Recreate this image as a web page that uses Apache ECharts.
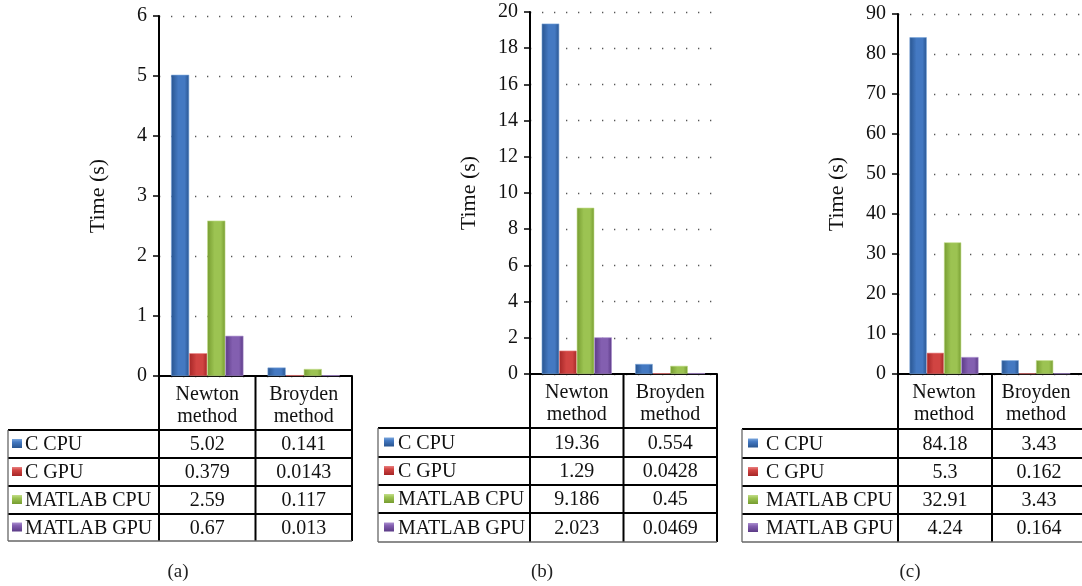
<!DOCTYPE html>
<html>
<head>
<meta charset="utf-8">
<script src="https://cdn.jsdelivr.net/npm/echarts@6/dist/echarts.min.js"></script>
<style>
html,body{margin:0;padding:0;background:#fff;}
#chart{width:1082px;height:586px;}
</style>
</head>
<body>
<div id="chart"></div>
<script>
// ---- Data ----
const categories = ['Newton\nmethod', 'Broyden\nmethod'];
const seriesNames = ['C CPU', 'C GPU', 'MATLAB CPU', 'MATLAB GPU'];
const panelLabels = ['(a)', '(b)', '(c)'];

// Panel (a)
const aCCpu = [5.02, 0.141];
const aCGpu = [0.379, 0.0143];
const aMCpu = [2.59, 0.117];
const aMGpu = [0.67, 0.013];
// Panel (b)
const bCCpu = [19.36, 0.554];
const bCGpu = [1.29, 0.0428];
const bMCpu = [9.186, 0.45];
const bMGpu = [2.023, 0.0469];
// Panel (c)
const cCCpu = [84.18, 3.43];
const cCGpu = [5.3, 0.162];
const cMCpu = [32.91, 3.43];
const cMGpu = [4.24, 0.164];

// axis ranges
const yMax = [6, 20, 90];
const yInterval = [1, 2, 10];

const panelData = [
  [aCCpu, aCGpu, aMCpu, aMGpu],
  [bCCpu, bCGpu, bMCpu, bMGpu],
  [cCCpu, cCGpu, cMCpu, cMGpu]
];

// ---- Layout / style ----
const FONT = '"Liberation Serif", "DejaVu Serif", serif';
const FS = 20;
const layout = [
  {left: 159, width: 193, top: 16, height: 360, tableLeft: 8,   keyX: 12,  textX: 25,  rows: [430, 458, 486, 514, 541], labelX: 178, rightBorder: true},
  {left: 530, width: 187, top: 12, height: 362, tableLeft: 378, keyX: 384, textX: 398, rows: [428, 457, 485, 513, 542], labelX: 542, rightBorder: true},
  {left: 898, width: 188, top: 14, height: 360, tableLeft: 742, keyX: 748, textX: 766, rows: [429, 458, 486, 514, 542], labelX: 910, rightBorder: false}
];
const colors = [
  {dark: '#28548f', mid: '#4479c2', light: '#7aa6dc'},
  {dark: '#a52626', mid: '#d14442', light: '#e98080'},
  {dark: '#769c30', mid: '#9cc352', light: '#c3dd8a'},
  {dark: '#5b3a86', mid: '#835fb0', light: '#ab8fcf'}
];
function barFill(c) {
  return new echarts.graphic.LinearGradient(0, 0, 1, 0, [
    {offset: 0, color: c.dark},
    {offset: 0.4, color: c.mid},
    {offset: 0.75, color: c.mid},
    {offset: 1, color: c.dark}
  ]);
}

const grids = [], xAxes = [], yAxes = [], series = [], graphics = [];

layout.forEach((L, p) => {
  grids.push({left: L.left, top: L.top, width: L.width, height: L.height, containLabel: false});
  xAxes.push({
    type: 'category', gridIndex: p, data: categories,
    axisLine: {show: true, lineStyle: {color: '#000', width: 2}},
    axisTick: {show: false},
    axisLabel: {fontFamily: FONT, fontSize: FS, color: '#111', lineHeight: 22, margin: 8},
    splitLine: {show: false}
  });
  yAxes.push({
    type: 'value', gridIndex: p, min: 0, max: yMax[p], interval: yInterval[p],
    name: 'Time (s)', nameLocation: 'middle', nameGap: 50,
    nameTextStyle: {fontFamily: FONT, fontSize: 22, color: '#111'},
    axisLine: {show: true, lineStyle: {color: '#000', width: 2}},
    axisTick: {show: true, inside: false, length: 6, lineStyle: {color: '#000', width: 1.5}},
    axisLabel: {fontFamily: FONT, fontSize: FS, color: '#111', margin: 12},
    splitLine: {show: true, lineStyle: {color: '#555', width: 1.3, type: [1.3, 10.7]}}
  });
  panelData[p].forEach((vals, s) => {
    series.push({
      type: 'bar', name: seriesNames[s], xAxisIndex: p, yAxisIndex: p,
      data: vals, barGap: '0%', barCategoryGap: '25%',
      itemStyle: {color: barFill(colors[s]), borderColor: colors[s].light, borderWidth: 0.6},
      silent: true
    });
  });

  // ---- data table ----
  const right = L.left + L.width;
  const mid = L.left + L.width / 2;
  const zero = L.top + L.height;
  const R = L.rows;
  const bottom = R[4];
  const thick = {stroke: '#000', lineWidth: 2};
  const thin = {stroke: '#666', lineWidth: 1.3};
  const line = (x1, y1, x2, y2, st) => graphics.push({type: 'line', shape: {x1, y1, x2, y2}, style: st, z: 10});
  line(L.left, zero, L.left, bottom, thick);
  line(mid, zero, mid, bottom, thick);
  if (L.rightBorder) line(right, zero, right, bottom, thick);
  for (let i = 0; i < 4; i++) line(L.tableLeft, R[i], right, R[i], thick);
  line(L.tableLeft, bottom, right, bottom, thin);
  line(L.tableLeft, R[0], L.tableLeft, bottom, thin);

  for (let s = 0; s < 4; s++) {
    const cy = (R[s] + R[s + 1]) / 2;
    graphics.push({type: 'rect', shape: {x: L.keyX, y: cy - 5, width: 10, height: 9},
      style: {fill: new echarts.graphic.LinearGradient(0, 0, 0, 1, [
        {offset: 0, color: colors[s].light}, {offset: 0.35, color: colors[s].mid}, {offset: 1, color: colors[s].dark}])}, z: 11});
    graphics.push({type: 'text', x: L.textX, y: cy + 1,
      style: {text: seriesNames[s], fontFamily: FONT, fontSize: FS, fill: '#111', textVerticalAlign: 'middle', textAlign: 'left'}, z: 11});
    const vals = panelData[p][s];
    [L.left + L.width / 4, L.left + 3 * L.width / 4].forEach((cx, k) => {
      graphics.push({type: 'text', x: cx, y: cy + 1,
        style: {text: String(vals[k]), fontFamily: FONT, fontSize: FS, fill: '#111', textVerticalAlign: 'middle', textAlign: 'center'}, z: 11});
    });
  }
  graphics.push({type: 'text', x: L.labelX, y: 572,
    style: {text: panelLabels[p], fontFamily: FONT, fontSize: 19, fill: '#222', textVerticalAlign: 'middle', textAlign: 'center'}, z: 11});
});

const chart = echarts.init(document.getElementById('chart'), null, {renderer: 'canvas'});
chart.setOption({
  animation: false,
  backgroundColor: '#fff',
  grid: grids, xAxis: xAxes, yAxis: yAxes, series: series,
  graphic: graphics
});
</script>
</body>
</html>
